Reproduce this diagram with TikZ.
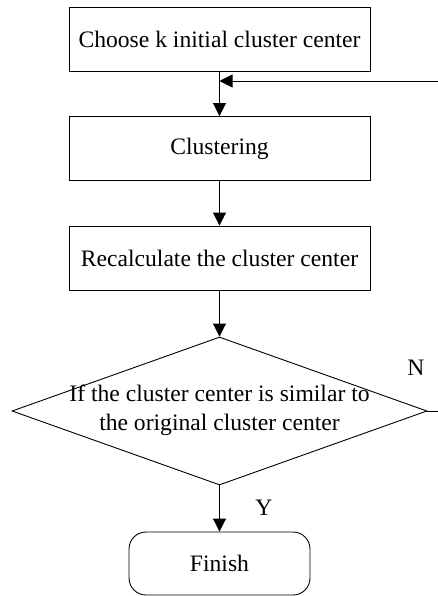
\documentclass[tikz,border=0pt]{standalone}
\usepackage{fontspec}
\setmainfont{Liberation Serif}
\usetikzlibrary{shapes.geometric,arrows.meta}
\begin{document}
\begin{tikzpicture}[x=1pt,y=-1pt,
  every node/.style={font=\fontsize{23.6}{28.5}\selectfont},
  box/.style={draw, line width=0.9pt, minimum width=301pt, minimum height=64pt, inner sep=0pt},
  endbox/.style={draw, line width=0.9pt, rounded corners=17pt, minimum width=181pt, minimum height=63pt, inner sep=0pt},
  dec/.style={draw, line width=0.9pt, diamond, minimum width=415pt, minimum height=148pt, inner sep=0pt},
  arr/.style={line width=0.9pt, -{Triangle[length=13pt,width=13pt]}},
  ln/.style={line width=0.9pt},
  lbl/.style={inner sep=0pt}
]
\useasboundingbox (0,0) rectangle (438,596);
\node[box] (b1) at (219.5,39) {Choose k initial cluster center};
\node[box] (b2) at (219.5,148.5) {Clustering};
\node[box] (b3) at (219.5,258) {Recalculate the cluster center};
\node[dec] (d) at (219.5,411) {};
\node[align=center, inner sep=0pt] (dt) at (219.5,410) {If the cluster center is similar to\\the original cluster center};
\node[endbox] (fin) at (219.5,563.5) {Finish};
\node[lbl] (N) at (416,368) {N};
\node[lbl] (Y) at (264,508) {Y};
\coordinate (j) at (b1.south |- 0,81);
\coordinate (e1) at (438,411);
\coordinate (e2) at (438,81);
\draw[arr] (b1.south) -- (b2.north);
\draw[arr] (b2.south) -- (b3.north);
\draw[arr] (b3.south) -- (d.north);
\draw[arr] (d.south) -- (fin.north);
\draw[ln] (d.east) -- (e1);
\draw[arr] (e2) -- (j);
\end{tikzpicture}
\end{document}
